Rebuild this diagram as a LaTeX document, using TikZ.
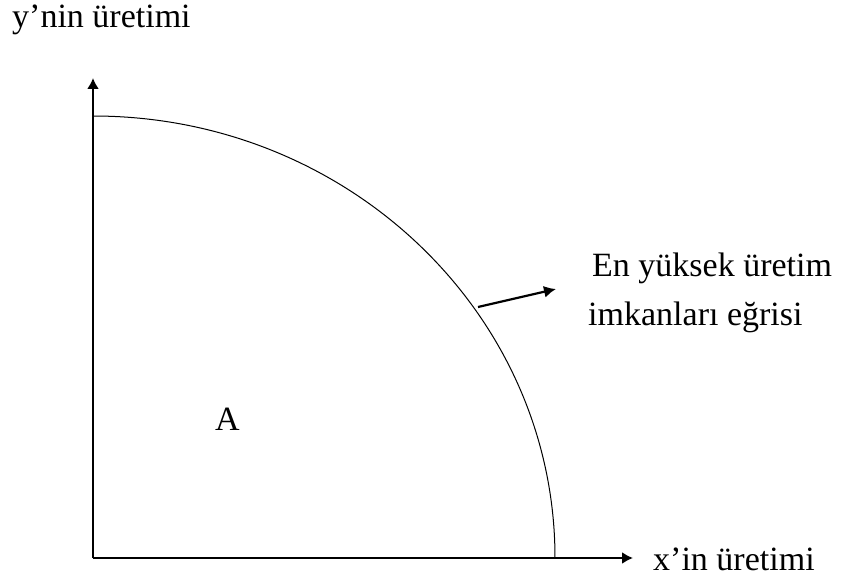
\documentclass[tikz,border=0pt]{standalone}
\usepackage{fontspec}
\setmainfont{Liberation Serif}
\usetikzlibrary{arrows.meta}
\begin{document}
\begin{tikzpicture}[x=1pt,y=-1pt,
  axis/.style={line width=2pt,-{Latex[length=11pt,width=12pt]}},
  curvestyle/.style={line width=1pt},
  pointer/.style={line width=2.2pt,-{Latex[length=12pt,width=12pt]}},
  lbl/.style={font=\fontsize{34}{40}\selectfont,inner sep=0pt,anchor=base west}]
\useasboundingbox (0,0) rectangle (841,585);
\fill[white] (0,0) rectangle (841,585);
\coordinate (O) at (93,558);
\coordinate (ytip) at (93,78);
\coordinate (xtip) at (633,558);
\coordinate (ctop) at (93,116);
\coordinate (cpt) at (478,307);
\coordinate (ptip) at (556,289);
\draw[axis] (O) -- (ytip);
\draw[axis] (O) -- (xtip);
\draw[curvestyle] (ctop) arc[start angle=90,end angle=0,x radius=462pt,y radius=442pt];
\draw[pointer] (cpt) -- (ptip);
\node[lbl] (ylab) at (12,28) {y’nin üretimi};
\node[lbl] (xlab) at (653,570) {x’in üretimi};
\node[lbl] (pl1) at (592,277) {En yüksek üretim};
\node[lbl] (pl2) at (588,326) {imkanları eğrisi};
\node[lbl] (A) at (215,430) {A};
\end{tikzpicture}
\end{document}
